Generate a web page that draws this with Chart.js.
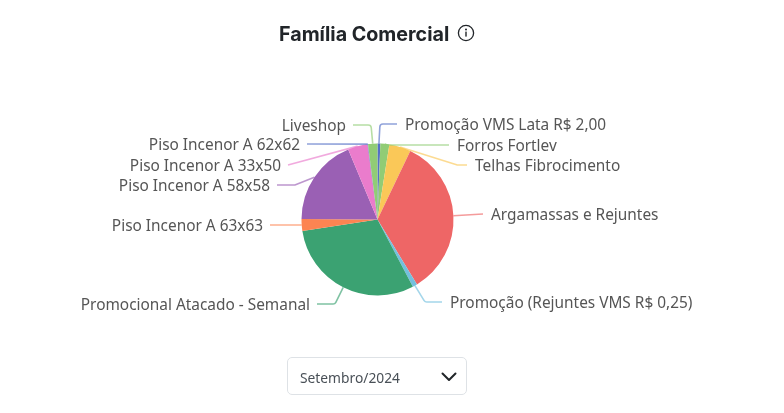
<!DOCTYPE html>
<html lang="pt-BR">
<head>
<meta charset="utf-8">
<title>Família Comercial</title>
<script src="https://cdn.jsdelivr.net/npm/chart.js@4"></script>
<style>
html,body{margin:0;padding:0;background:#fff;width:784px;height:413px;overflow:hidden}
#wrap{position:relative;width:784px;height:413px;filter:blur(.4px)}
canvas{position:absolute;left:0;top:0}
#title{position:absolute;left:279px;top:21px;font:700 19.7px/26px "Inter","Liberation Sans",sans-serif;color:#212529;white-space:nowrap}
#info{position:absolute;left:457px;top:24px}
#sel{position:absolute;left:287px;top:357px;width:178px;height:36px;border:1px solid #dee2e6;border-radius:5px;box-sizing:content-box;font:13.8px/39px "Noto Sans",sans-serif;color:#495057;background:#fff}
#sel span{position:absolute;left:12px;top:0}
#sel svg{position:absolute;left:153px;top:14px}
</style>
</head>
<body>
<div id="wrap">
<canvas id="c" width="784" height="413"></canvas>
<div id="title">Família Comercial</div>
<svg id="info" width="18" height="18" viewBox="0 0 18 18"><circle cx="9" cy="9" r="7.6" fill="none" stroke="#212529" stroke-width="1.3"/><rect x="8.3" y="7.6" width="1.4" height="5" fill="#212529"/><circle cx="9" cy="5.4" r="1" fill="#212529"/></svg>
<div id="sel"><span>Setembro/2024</span><svg width="16" height="10" viewBox="0 0 16 10"><path d="M1.5 1.5l6.5 6.5 6.5-6.5" fill="none" stroke="#212529" stroke-width="2" stroke-linecap="round" stroke-linejoin="round"/></svg></div>
</div>
<script>
const categories = ["Promoção VMS Lata R$ 2,00","Forros Fortlev","Telhas Fibrocimento","Argamassas e Rejuntes","Promoção (Rejuntes VMS R$ 0,25)","Promocional Atacado - Semanal","Piso Incenor A 63x63","Piso Incenor A 58x58","Piso Incenor A 33x50","Piso Incenor A 62x62","Liveshop"];
const values = [0.6,1.9,4.6,34.2,1.0,30.3,2.5,18.6,4.2,0.1,2.0];
const colors = ["#5470c6","#91cc75","#fac858","#ee6666","#73c0de","#3ba272","#fc8452","#9a60b4","#ea7ccc","#5470c6","#91cc75"];
// callout layout: label centre y, elbow x, end of leader x
const labelY = [124,145,165,214,302,304,225,185,165,144,125];
const elbowX = [380,387,457,483,425,335,270,295,288,307,371];
const endX   = [397,449,467,483,442,317,270,277,288,307,353];

const calloutPlugin = {
  id:'callouts',
  afterDatasetsDraw(chart){
    const ctx = chart.ctx;
    chart.getDatasetMeta(0).data.forEach((arc,i)=>{
      const mid=(arc.startAngle+arc.endAngle)/2;
      const sx=arc.x+Math.cos(mid)*arc.outerRadius, sy=arc.y+Math.sin(mid)*arc.outerRadius;
      const ly=labelY[i], right=endX[i]>sx;
      ctx.save();
      ctx.strokeStyle=colors[i];ctx.globalAlpha=.65;ctx.lineWidth=1.6;
      ctx.beginPath();ctx.moveTo(sx,sy);
      if(elbowX[i]!==endX[i]) ctx.arcTo(elbowX[i],ly,endX[i],ly,3);
      ctx.lineTo(endX[i],ly);ctx.stroke();
      ctx.restore();
      ctx.save();
      ctx.font='15.4px "Noto Sans",sans-serif';ctx.fillStyle='#555';ctx.textBaseline='middle';
      ctx.textAlign=right?'left':'right';
      ctx.fillText(categories[i],endX[i]+(right?8:-7),ly+1.5);
      ctx.restore();
    });
  }
};
new Chart(document.getElementById('c'),{
  type:'pie',
  data:{labels:categories,datasets:[{data:values,backgroundColor:colors,borderWidth:0}]},
  options:{
    responsive:false,animation:false,
    layout:{padding:{left:301.5,right:330.5,top:143.5,bottom:117.5}},
    plugins:{legend:{display:false},tooltip:{enabled:false}}
  },
  plugins:[calloutPlugin]
});
</script>
</body>
</html>
